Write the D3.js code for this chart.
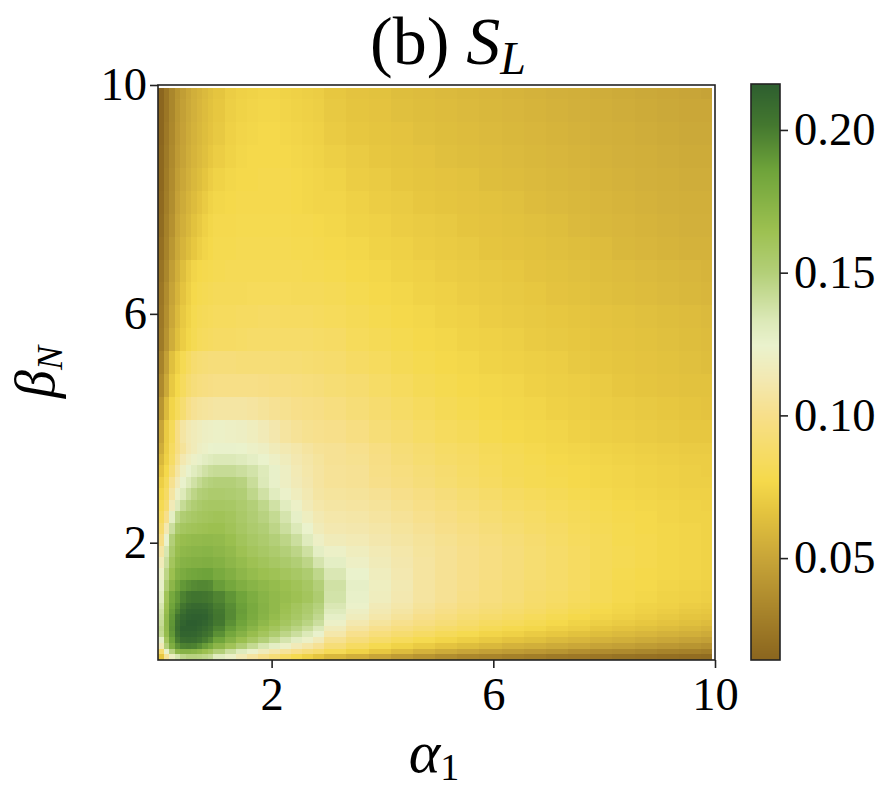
<!DOCTYPE html>
<html><head><meta charset="utf-8">
<script src="https://cdn.jsdelivr.net/npm/d3@7"></script>
<style>html,body{margin:0;padding:0;background:#fff}svg{display:block}text{font-family:"Liberation Serif",serif;fill:#000}</style>
</head><body><div id="c"></div>
<script>
const colEdges=[-0.05,0.05,0.15,0.25,0.35,0.45,0.55,0.65,0.75,0.85,0.95,1.15,1.35,1.55,1.75,1.95,2.15,2.35,2.55,2.75,2.95,3.35,3.75,4.15,4.55,4.95,5.35,5.75,6.15,6.55,6.95,7.35,7.75,8.15,8.55,8.95,9.35,9.75,9.95];
const rowEdges=[9.95,9.75,9.35,8.95,8.55,8.15,7.75,7.35,6.95,6.55,6.15,5.75,5.35,4.95,4.55,4.15,3.75,3.55,3.35,3.15,2.95,2.75,2.55,2.35,2.15,1.95,1.75,1.55,1.35,1.15,0.95,0.85,0.75,0.65,0.55,0.45,0.35,0.25,0.15,0.05,-0.05];
const cellValues=[
[15,24,33,41,46,51,55,58,61,64,67,71,73,74,75,75,74,73,72,71,68,66,65,63,62,61,60,59,58,57,56,55,54,53,52,51,50,49],
[15,24,33,42,47,52,56,59,62,65,68,72,74,75,76,76,75,74,73,72,69,67,66,64,63,62,61,60,59,58,57,56,55,54,53,52,51,51],
[15,25,34,43,48,53,57,60,63,66,69,73,75,76,77,77,76,75,74,73,70,68,67,66,64,63,62,61,60,59,58,57,56,55,54,53,52,52],
[16,26,35,44,49,54,58,61,64,68,71,74,76,77,77,77,77,76,75,74,72,70,68,67,66,64,63,62,61,60,59,58,57,56,55,54,53,53],
[16,27,36,46,51,56,60,63,67,71,74,76,77,77,78,78,78,77,76,75,74,71,70,68,67,66,65,63,62,61,60,59,58,57,56,55,54,54],
[17,28,37,48,53,58,62,66,70,74,76,77,78,78,78,78,78,77,76,75,75,73,71,70,68,67,66,65,64,62,61,60,59,58,57,56,55,55],
[18,30,39,50,55,60,65,69,73,76,78,78,79,79,79,79,79,78,78,77,76,74,73,71,70,69,67,66,65,64,63,61,60,59,58,57,56,56],
[20,31,42,52,58,63,68,72,75,77,79,79,80,80,80,80,80,79,79,78,77,76,74,73,71,70,69,67,66,65,64,63,62,60,59,58,57,57],
[22,33,46,55,63,70,75,77,78,79,80,81,81,81,81,81,81,81,80,80,79,77,76,74,73,71,70,69,68,66,65,64,63,62,61,60,59,58],
[24,36,49,58,66,72,77,79,80,81,82,82,82,83,83,83,83,82,82,82,81,79,77,76,74,73,71,70,69,68,66,65,64,63,62,61,60,59],
[25,38,51,61,69,74,79,81,82,83,84,84,85,85,86,86,85,85,85,84,83,81,79,77,76,74,73,71,70,69,68,67,66,65,64,63,62,61],
[26,40,54,64,71,76,80,83,84,85,86,86,87,88,88,88,88,88,88,87,86,83,81,79,77,76,74,73,72,70,69,68,67,66,65,64,63,62],
[31,47,64,73,80,85,90,92,93,94,94,94,93,93,93,93,92,92,91,90,89,86,84,81,79,77,76,74,73,72,71,69,68,67,66,65,64,63],
[35,52,69,77,84,90,94,96,97,98,99,99,99,99,98,97,97,96,95,94,92,90,87,84,81,79,77,76,75,73,72,71,70,68,67,66,65,65],
[41,61,75,83,91,99,103,105,106,107,108,108,108,107,105,103,102,100,99,98,96,93,90,87,84,81,79,77,76,75,73,72,71,70,69,68,67,66],
[50,70,82,98,108,113,116,118,120,121,122,121,120,118,115,111,107,104,102,101,100,97,93,90,87,84,82,79,77,76,75,73,72,71,70,69,68,68],
[54,71,85,97,105,112,116,120,122,124,125,125,124,122,120,116,113,110,107,104,103,101,97,93,90,87,85,82,80,78,76,75,74,73,72,71,70,70],
[60,73,87,102,112,118,122,126,129,131,133,133,131,128,124,121,117,112,109,106,103,102,98,94,91,88,86,83,81,79,77,76,75,74,73,72,71,71],
[66,77,93,108,119,125,130,134,138,141,142,142,140,137,132,126,120,114,110,107,104,103,99,96,93,90,87,84,81,80,78,77,76,75,74,73,72,71],
[72,82,102,115,125,132,138,143,147,149,150,150,148,141,133,126,120,115,111,107,104,103,100,97,94,91,88,85,82,80,79,77,76,75,74,73,72,72],
[76,86,108,122,132,140,146,150,152,154,154,153,151,145,138,130,123,118,113,108,106,105,103,100,97,94,91,88,85,83,81,79,78,76,75,74,73,73],
[80,90,115,132,142,148,152,155,157,158,158,157,154,150,145,138,130,122,115,110,108,107,105,102,99,96,93,90,87,85,83,81,79,77,76,75,74,73],
[84,100,128,145,152,155,157,159,160,161,162,160,156,152,148,143,136,127,119,113,110,109,107,104,101,98,95,92,89,87,84,82,80,78,77,75,74,74],
[90,112,140,155,159,161,162,163,164,165,165,162,158,154,151,146,140,133,124,116,112,111,109,106,103,100,97,94,91,88,86,83,81,79,77,76,75,74],
[98,125,150,164,167,168,169,169,170,170,169,166,161,157,154,150,146,140,131,121,116,114,111,108,105,102,99,96,93,90,87,84,82,79,78,76,75,74],
[108,135,155,167,171,172,173,173,174,174,172,169,164,160,157,154,150,146,139,128,122,118,114,110,106,103,100,97,94,91,88,85,82,80,78,76,75,74],
[116,140,160,171,175,176,177,177,178,178,176,172,168,164,161,158,155,151,146,136,128,121,116,111,107,103,100,97,94,91,88,85,82,80,78,76,75,74],
[122,146,165,176,180,183,184,185,186,186,181,177,172,168,165,163,160,157,153,145,134,124,118,112,107,103,100,97,94,91,88,85,82,79,77,76,75,74],
[126,152,172,183,190,193,195,196,196,195,188,183,178,174,171,168,165,162,158,150,138,127,119,113,107,103,100,96,93,90,88,85,81,78,77,75,74,73],
[130,162,182,190,198,202,204,204,203,201,197,191,185,179,174,170,167,164,160,153,137,126,118,112,107,103,99,96,93,89,87,84,81,78,76,74,73,72],
[135,165,185,194,203,208,210,210,209,206,200,194,187,181,175,170,165,160,155,149,134,123,115,110,105,101,97,94,91,88,85,82,79,76,74,73,71,70],
[138,167,188,198,207,212,213,213,212,208,202,195,188,181,175,170,164,159,154,147,131,120,113,108,103,99,95,92,89,86,83,80,77,75,73,71,69,68],
[140,170,190,204,211,214,215,215,214,210,203,195,187,180,174,168,162,157,151,144,127,117,110,105,100,96,92,89,86,83,80,77,75,73,71,69,67,66],
[142,171,191,206,213,216,216,215,213,209,202,193,185,178,171,165,159,153,147,140,122,112,106,101,97,93,89,85,83,80,77,74,72,70,68,66,64,62],
[145,170,192,207,215,215,215,213,210,206,198,189,181,173,166,160,153,147,141,133,116,107,101,96,92,88,85,81,78,76,73,71,68,66,64,62,60,58],
[143,168,190,205,213,213,212,210,206,202,193,183,175,167,160,153,146,140,133,125,110,101,95,90,86,82,79,75,73,70,68,65,63,61,59,57,55,53],
[127,160,185,200,208,209,208,205,200,195,185,175,166,158,150,143,136,129,122,115,102,94,88,83,79,75,72,69,66,64,61,59,57,55,53,51,49,47],
[115,150,178,192,198,199,198,194,188,182,172,162,152,143,135,128,122,115,109,103,93,85,79,74,70,66,63,60,57,55,53,51,49,47,45,43,41,39],
[90,125,148,172,175,175,173,170,165,160,150,140,131,123,116,110,105,100,94,89,81,74,68,62,57,53,50,47,45,43,41,38,36,35,33,31,30,28],
[68,105,120,135,145,148,148,147,145,142,130,122,114,107,100,93,86,79,73,67,60,55,50,45,41,37,34,32,30,28,26,25,24,22,21,20,19,18]
];
const axisTicks=[2,6,10];
const colorbarTicks=[0.05,0.10,0.15,0.20];
const colorValues=[14.3,50,66.8,77,100,112,124.5,133,150,165,186,201.5,216.1];
const colorStops=["#8a651e","#c8a538","#e5c53f","#f5d94b","#f7df8a","#f3e8b0","#eaf2cd","#dce9b8","#b3cf78","#9cc050","#6ea33a","#44782f","#2d5e2f"];

const W=891,H=795,L=158,R=715,T=85,B=660;
const svg=d3.select("#c").append("svg").attr("width",W).attr("height",H);
const x=d3.scaleLinear().domain([-0.05,10]).range([L,R]);
const y=d3.scaleLinear().domain([-0.05,10]).range([B,T]);
const color=d3.scaleLinear().domain(colorValues).range(colorStops).interpolate(d3.interpolateRgb).clamp(true);
const gc=svg.append("g").attr("shape-rendering","crispEdges");
cellValues.forEach((row,r)=>row.forEach((v,c)=>{
  gc.append("rect").attr("x",x(colEdges[c])).attr("y",y(rowEdges[r]))
    .attr("width",x(colEdges[c+1])-x(colEdges[c])).attr("height",y(rowEdges[r+1])-y(rowEdges[r]))
    .attr("fill",color(v));
}));
const sw=1.6,tickLen=8,fs=46.5;
const axX=svg.append("g").attr("transform",`translate(0,${B})`).call(d3.axisBottom(x).tickValues(axisTicks).tickSize(tickLen).tickSizeOuter(0).tickPadding(9));
const axY=svg.append("g").attr("transform",`translate(${L},0)`).call(d3.axisLeft(y).tickValues(axisTicks).tickSize(tickLen).tickSizeOuter(0).tickPadding(3));
[axX,axY].forEach(a=>{a.select(".domain").remove();a.selectAll("line").attr("stroke","#222").attr("stroke-width",sw);a.selectAll("text").attr("font-size",fs);});
svg.append("rect").attr("x",L).attr("y",T).attr("width",R-L).attr("height",B-T).attr("fill","none").attr("stroke","#222").attr("stroke-width",sw);

const cbL=751,cbR=780,cbT=84,cbB=660;
const cb=d3.scaleLinear().domain([14.3/1000,216.1/1000]).range([cbB,cbT]);
const gb=svg.append("g").attr("shape-rendering","crispEdges");
d3.range(cbT,cbB).forEach(py=>{
  gb.append("rect").attr("x",cbL).attr("y",py).attr("width",cbR-cbL).attr("height",1.2)
    .attr("fill",color(cb.invert(py+0.5)*1000));
});
const axC=svg.append("g").attr("transform",`translate(${cbR},0)`).call(d3.axisRight(cb).tickValues(colorbarTicks).tickFormat(d3.format(".2f")).tickSize(tickLen).tickSizeOuter(0).tickPadding(6));
axC.select(".domain").remove();axC.selectAll("line").attr("stroke","#222").attr("stroke-width",sw);axC.selectAll("text").attr("font-size",fs);
svg.append("rect").attr("x",cbL).attr("y",cbT).attr("width",cbR-cbL).attr("height",cbB-cbT).attr("fill","none").attr("stroke","#222").attr("stroke-width",sw);

const title=svg.append("text").attr("x",448).attr("y",64).attr("text-anchor","middle").attr("font-size",68);
title.append("tspan").text("(b) ");
title.append("tspan").attr("font-style","italic").text("S");
title.append("tspan").attr("font-style","italic").attr("font-size",46).attr("dy",10).text("L");
const xl=svg.append("text").attr("x",434).attr("y",772).attr("text-anchor","middle").attr("font-size",60);
xl.append("tspan").attr("font-style","italic").text("α");
xl.append("tspan").attr("font-size",38).attr("dy",8).text("1");
const yl=svg.append("text").attr("transform","translate(54,372) rotate(-90)").attr("text-anchor","middle").attr("font-size",56);
yl.append("tspan").attr("font-style","italic").text("β");
yl.append("tspan").attr("font-style","italic").attr("font-size",36).attr("dy",8).text("N");
</script></body></html>
